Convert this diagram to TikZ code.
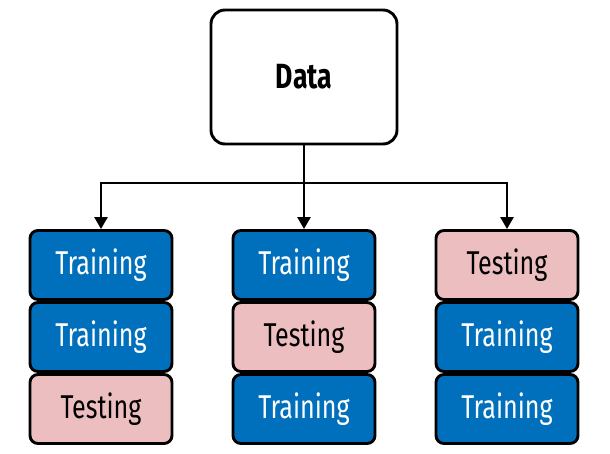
\documentclass[tikz,border=0pt]{standalone}
\usepackage{fontspec}
\setmainfont{Fira Sans}[FakeStretch=0.76]
\usetikzlibrary{arrows.meta}
\definecolor{trainblue}{RGB}{0,112,188}
\definecolor{testpink}{RGB}{236,190,192}
\tikzset{
  block/.style={draw=black, line width=2.9pt, rounded corners=8pt,
    minimum width=142pt, minimum height=69pt, inner sep=0pt,
    font=\fontsize{33}{38}\selectfont},
  train/.style={block, fill=trainblue, text=white},
  test/.style={block, fill=testpink, text=black},
  source/.style={draw=black, line width=2.9pt, rounded corners=14pt,
    minimum width=186pt, minimum height=134pt, fill=white,
    font=\fontsize{35}{40}\selectfont\bfseries},
  link/.style={line width=2.6pt},
  feed/.style={link, -{Triangle[length=12pt,width=13pt]}}
}
\begin{document}
\begin{tikzpicture}[x=1pt,y=-1pt]
\path[use as bounding box, fill=white] (0,0) rectangle (610,454);

\node[source] (data) at (304,77) {Data};

% left column
\node[train] (l1) at (101,265) {Training};
\node[train] (l2) at (101,337) {Training};
\node[test]  (l3) at (101,409) {Testing};

% middle column
\node[train] (m1) at (304,265) {Training};
\node[test]  (m2) at (304,337) {Testing};
\node[train] (m3) at (304,409) {Training};

% right column
\node[test]  (r1) at (507,265) {Testing};
\node[train] (r2) at (507,337) {Training};
\node[train] (r3) at (507,409) {Training};

% splitting connectors
\coordinate (hub) at (304,183);
\draw[link] (data.south) -- (hub);
\draw[feed] (hub) -| (l1.north);
\draw[feed] (hub) -- (m1.north);
\draw[feed] (hub) -| (r1.north);
\end{tikzpicture}
\end{document}
